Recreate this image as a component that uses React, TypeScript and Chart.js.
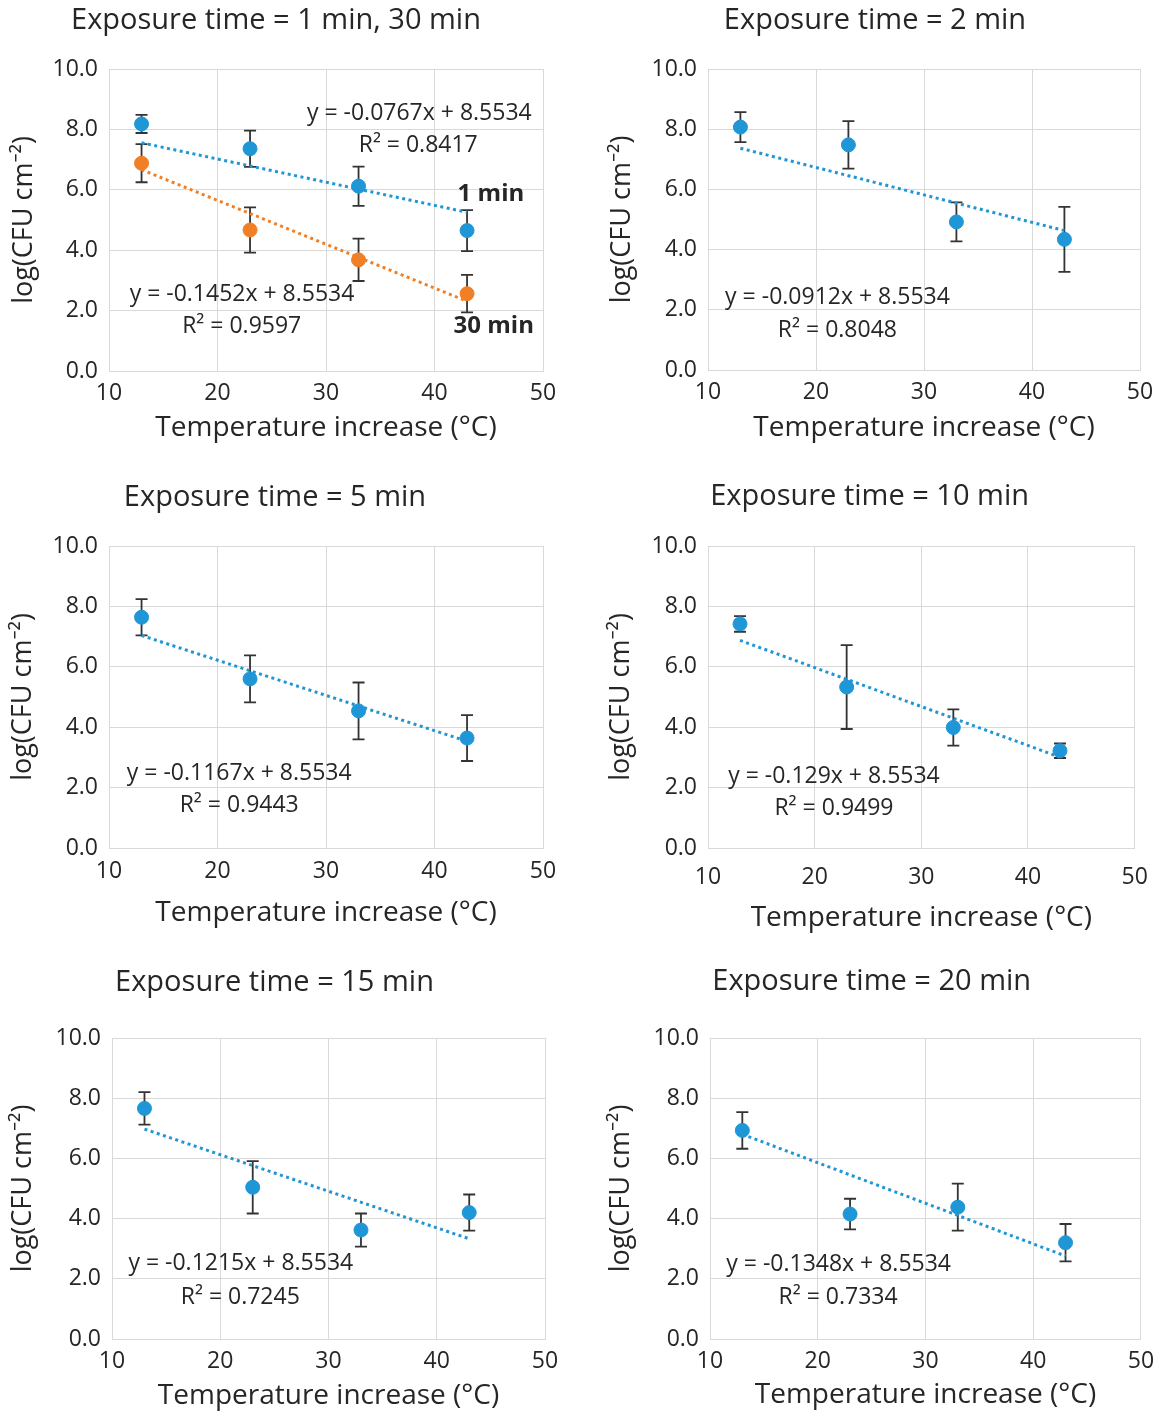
import React, { useEffect, useRef } from 'react';
import { Chart, registerables } from 'chart.js';

Chart.register(...registerables);

// ---------------- data ----------------
const temperatureIncrease = [13, 23, 33, 43];
const xTicks = [10, 20, 30, 40, 50];
const yTicks = [0, 2, 4, 6, 8, 10];
const intercept = 8.5534;

const mean1min = [8.18, 7.36, 6.12, 4.65];
const err1min = [0.3, 0.6, 0.65, 0.68];
const mean30min = [6.88, 4.67, 3.68, 2.56];
const err30min = [0.63, 0.75, 0.7, 0.62];
const mean2min = [8.07, 7.48, 4.92, 4.34];
const err2min = [0.5, 0.79, 0.65, 1.08];
const mean5min = [7.64, 5.6, 4.54, 3.64];
const err5min = [0.6, 0.78, 0.94, 0.76];
const mean10min = [7.42, 5.33, 3.99, 3.22];
const err10min = [0.26, 1.39, 0.6, 0.24];
const mean15min = [7.66, 5.04, 3.62, 4.2];
const err15min = [0.54, 0.87, 0.55, 0.6];
const mean20min = [6.93, 4.15, 4.38, 3.2];
const err20min = [0.61, 0.51, 0.78, 0.62];

const slope1min = -0.0767;
const slope30min = -0.1452;
const slope2min = -0.0912;
const slope5min = -0.1167;
const slope10min = -0.129;
const slope15min = -0.1215;
const slope20min = -0.1348;

const r2_1min = 0.8417;
const r2_30min = 0.9597;
const r2_2min = 0.8048;
const r2_5min = 0.9443;
const r2_10min = 0.9499;
const r2_15min = 0.7245;
const r2_20min = 0.7334;

// ---------------- styles ----------------
const FONT = "'Open Sans', 'Noto Sans', sans-serif";
const BLUE = '#1f96d6';
const ORANGE = '#f07f26';
const ERR = '#333333';
const GRID = '#d9d9d9';
const TEXT = '#262626';
const TITLE_FS = 29;
const X_TITLE_FS = 28;
const Y_TITLE_FS = 27;
const TICK_FS = 23;
const NOTE_FS = 23;
const TAG_FS = 24;
const LH = 1.2;

type Series = { mean: number[]; err: number[]; slope: number; r2: number; color: string };
type Note = { text: string; x: number; y: number; bold?: boolean };
type Box = {
  L: number; T: number; W: number; H: number;
  cl: number; cr: number; ct: number; cb: number;
  titleX: number; titleY: number; yTitleX: number; xTickY: number; xTitleY: number;
};
type PanelDef = { title: string; series: Series[]; notes: Note[]; box: Box };

const eq = (s: number) => `y = ${s}x + ${intercept}`;
const rsq = (r: number) => `R² = ${r.toFixed(4)}`;

const PANELS: PanelDef[] = [
  {
    title: 'Exposure time = 1 min, 30 min',
    series: [
      { mean: mean1min, err: err1min, slope: slope1min, r2: r2_1min, color: BLUE },
      { mean: mean30min, err: err30min, slope: slope30min, r2: r2_30min, color: ORANGE },
    ],
    notes: [
      { text: eq(slope1min), x: 38.6, y: 8.54 },
      { text: rsq(r2_1min), x: 38.5, y: 7.48 },
      { text: '1 min', x: 45.2, y: 5.86, bold: true },
      { text: eq(slope30min), x: 22.26, y: 2.55 },
      { text: rsq(r2_30min), x: 22.23, y: 1.47 },
      { text: '30 min', x: 45.46, y: 1.47, bold: true },
    ],
    box: { L: 0, T: 0, W: 580, H: 470, cl: 109, cr: 543, ct: 69, cb: 371, titleX: 276, titleY: 21, yTitleX: 24.2, xTickY: 393, xTitleY: 428.5 },
  },
  {
    title: 'Exposure time = 2 min',
    series: [{ mean: mean2min, err: err2min, slope: slope2min, r2: r2_2min, color: BLUE }],
    notes: [
      { text: eq(slope2min), x: 21.99, y: 2.41 },
      { text: rsq(r2_2min), x: 21.98, y: 1.33 },
    ],
    box: { L: 580, T: 0, W: 583, H: 470, cl: 708, cr: 1140, ct: 69, cb: 370, titleX: 875, titleY: 21, yTitleX: 622.1, xTickY: 392.7, xTitleY: 428 },
  },
  {
    title: 'Exposure time = 5 min',
    series: [{ mean: mean5min, err: err5min, slope: slope5min, r2: r2_5min, color: BLUE }],
    notes: [
      { text: eq(slope5min), x: 22.0, y: 2.47 },
      { text: rsq(r2_5min), x: 22.0, y: 1.4 },
    ],
    box: { L: 0, T: 470, W: 580, H: 485, cl: 109, cr: 543, ct: 546, cb: 848, titleX: 275, titleY: 498, yTitleX: 23.3, xTickY: 871.7, xTitleY: 913 },
  },
  {
    title: 'Exposure time = 10 min',
    series: [{ mean: mean10min, err: err10min, slope: slope10min, r2: r2_10min, color: BLUE }],
    notes: [
      { text: eq(slope10min), x: 21.81, y: 2.36 },
      { text: rsq(r2_10min), x: 21.81, y: 1.31 },
    ],
    box: { L: 580, T: 470, W: 583, H: 485, cl: 708, cr: 1141, ct: 546, cb: 848, titleX: 869.6, titleY: 496.5, yTitleX: 621.5, xTickY: 877, xTitleY: 918 },
  },
  {
    title: 'Exposure time = 15 min',
    series: [{ mean: mean15min, err: err15min, slope: slope15min, r2: r2_15min, color: BLUE }],
    notes: [
      { text: eq(slope15min), x: 21.9, y: 2.51 },
      { text: rsq(r2_15min), x: 21.85, y: 1.38 },
    ],
    box: { L: 0, T: 955, W: 580, H: 464, cl: 112, cr: 545, ct: 1038, cb: 1339, titleX: 274.5, titleY: 983, yTitleX: 23.3, xTickY: 1361.7, xTitleY: 1396 },
  },
  {
    title: 'Exposure time = 20 min',
    series: [{ mean: mean20min, err: err20min, slope: slope20min, r2: r2_20min, color: BLUE }],
    notes: [
      { text: eq(slope20min), x: 21.94, y: 2.49 },
      { text: rsq(r2_20min), x: 21.89, y: 1.39 },
    ],
    box: { L: 580, T: 955, W: 583, H: 464, cl: 710, cr: 1142, ct: 1038, cb: 1339, titleX: 871.7, titleY: 982, yTitleX: 621.5, xTickY: 1361.7, xTitleY: 1395 },
  },
];

function Panel({ p }: { p: PanelDef }) {
  const ref = useRef<HTMLCanvasElement | null>(null);
  const b = p.box;

  useEffect(() => {
    const canvas = ref.current;
    if (!canvas) return;

    const titleLH = TITLE_FS * LH;
    const yTitleLH = Y_TITLE_FS * LH;
    const xTitleLH = X_TITLE_FS * LH;
    const tickLH = TICK_FS * LH;

    const pl = 2 * b.titleX - b.cr - b.L;
    const pr = b.L + b.W - b.cr;
    const titlePadTop = b.titleY - b.T - titleLH / 2;
    const titlePadBottom = b.ct - b.T - titlePadTop - titleLH;
    const yAxisW = b.cl - b.L - pl;
    const yTitlePad = b.yTitleX - (b.L + pl) - yTitleLH / 2;
    const xTickPad = b.xTickY - b.cb - tickLH / 2;
    const xAxisH = b.xTitleY - b.cb + xTitleLH / 2;
    const pb = b.T + b.H - b.cb - xAxisH;

    const datasets: any[] = [];
    p.series.forEach((s) => {
      datasets.push({
        data: temperatureIncrease.map((x, i) => ({ x, y: s.mean[i] })),
        showLine: false,
        backgroundColor: s.color,
        borderColor: s.color,
        pointRadius: 7,
        pointBorderWidth: 1,
        pointHoverRadius: 7,
      });
    });
    p.series.forEach((s) => {
      const x0 = temperatureIncrease[0];
      const x1 = temperatureIncrease[temperatureIncrease.length - 1];
      datasets.push({
        data: [
          { x: x0, y: intercept + s.slope * x0 },
          { x: x1, y: intercept + s.slope * x1 },
        ],
        showLine: true,
        borderColor: s.color,
        borderWidth: 3,
        borderDash: [3, 3.5],
        pointRadius: 0,
        fill: false,
      });
    });

    const errorBars = {
      id: 'errorBars',
      beforeDatasetsDraw(chart: any) {
        const { ctx, scales } = chart;
        const xs = scales.x;
        const ys = scales.y;
        ctx.save();
        ctx.strokeStyle = ERR;
        ctx.lineWidth = 1.8;
        p.series.forEach((s) => {
          temperatureIncrease.forEach((x, i) => {
            const px = xs.getPixelForValue(x);
            const top = ys.getPixelForValue(s.mean[i] + s.err[i]);
            const bot = ys.getPixelForValue(s.mean[i] - s.err[i]);
            ctx.beginPath();
            ctx.moveTo(px, top);
            ctx.lineTo(px, bot);
            ctx.moveTo(px - 6, top);
            ctx.lineTo(px + 6, top);
            ctx.moveTo(px - 6, bot);
            ctx.lineTo(px + 6, bot);
            ctx.stroke();
          });
        });
        ctx.restore();
      },
    };

    const notes = {
      id: 'notes',
      afterDatasetsDraw(chart: any) {
        const { ctx, scales } = chart;
        ctx.save();
        ctx.fillStyle = TEXT;
        ctx.textAlign = 'center';
        ctx.textBaseline = 'middle';
        p.notes.forEach((n) => {
          ctx.font = n.bold ? `bold ${TAG_FS}px ${FONT}` : `${NOTE_FS}px ${FONT}`;
          ctx.fillText(n.text, scales.x.getPixelForValue(n.x), scales.y.getPixelForValue(n.y));
        });
        ctx.restore();
      },
    };

    const chart = new Chart(canvas, {
      type: 'scatter',
      data: { datasets },
      plugins: [errorBars, notes],
      options: {
        responsive: false,
        animation: false,
        events: [],
        layout: { padding: { left: pl, right: pr, top: 0, bottom: pb } },
        plugins: {
          legend: { display: false },
          tooltip: { enabled: false },
          title: {
            display: true,
            text: p.title,
            color: TEXT,
            font: { family: FONT, size: TITLE_FS, weight: 'normal', lineHeight: LH },
            padding: { top: titlePadTop, bottom: titlePadBottom },
          },
        },
        scales: {
          x: {
            type: 'linear',
            min: xTicks[0],
            max: xTicks[xTicks.length - 1],
            afterBuildTicks: (s: any) => { s.ticks = xTicks.map((value) => ({ value })); },
            afterFit: (s: any) => { s.height = xAxisH; },
            grid: { color: GRID, lineWidth: 1, drawTicks: false },
            border: { display: true, color: GRID, width: 1 },
            ticks: {
              color: TEXT,
              padding: xTickPad,
              maxRotation: 0,
              font: { family: FONT, size: TICK_FS, lineHeight: LH },
              callback: (v: any) => String(v),
            },
            title: {
              display: true,
              text: 'Temperature increase (°C)',
              color: TEXT,
              font: { family: FONT, size: X_TITLE_FS, lineHeight: LH },
              padding: { top: 0, bottom: 0 },
            },
          },
          y: {
            type: 'linear',
            min: yTicks[0],
            max: yTicks[yTicks.length - 1],
            afterBuildTicks: (s: any) => { s.ticks = yTicks.map((value) => ({ value })); },
            afterFit: (s: any) => { s.width = yAxisW; },
            grid: { color: GRID, lineWidth: 1, drawTicks: false },
            border: { display: true, color: GRID, width: 1 },
            ticks: {
              color: TEXT,
              padding: 11,
              font: { family: FONT, size: TICK_FS, lineHeight: LH },
              callback: (v: any) => Number(v).toFixed(1),
            },
            title: {
              display: true,
              text: 'log(CFU cm⁻²)',
              color: TEXT,
              font: { family: FONT, size: Y_TITLE_FS, lineHeight: LH },
              padding: { top: yTitlePad, bottom: 0 },
            },
          },
        },
      } as any,
    });
    return () => chart.destroy();
  }, []);

  return (
    <canvas
      ref={ref}
      width={b.W}
      height={b.H}
      style={{ position: 'absolute', left: b.L, top: b.T, width: b.W, height: b.H }}
    />
  );
}

export default function App() {
  return (
    <div style={{ position: 'absolute', left: 0, top: 0, width: 1163, height: 1419, background: '#ffffff', overflow: 'hidden' }}>
      {PANELS.map((p, i) => (
        <Panel key={i} p={p} />
      ))}
    </div>
  );
}
